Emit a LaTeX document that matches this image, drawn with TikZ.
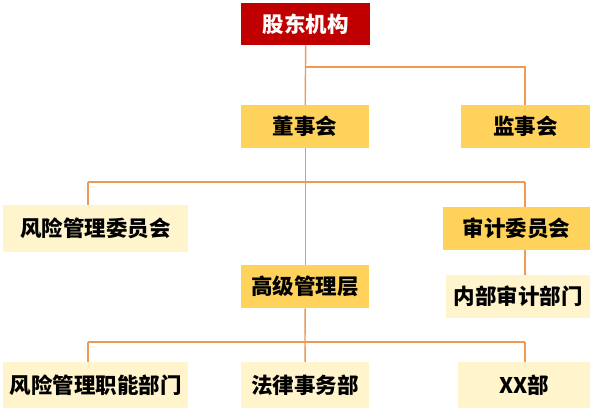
\documentclass[tikz,border=0pt]{standalone}
\usepackage{fontspec}
\setmainfont{Noto Sans CJK SC}
\begin{document}
\begin{tikzpicture}[x=1pt,y=-1pt,
 box/.style={draw=none,anchor=north west,inner sep=0pt,font=\fontsize{21.5}{22}\selectfont\bfseries},
 gold/.style={box,fill=gold},
 lite/.style={box,fill=lite},
 ln/.style={draw=lnc,line width=1.4pt}]
\definecolor{gold}{HTML}{FFD25C}
\definecolor{lite}{HTML}{FFF4CC}
\definecolor{lnc}{HTML}{EE9A55}
\definecolor{dred}{HTML}{C00000}
\useasboundingbox (0,0) rectangle (602,411);
\node[box,fill=dred,text=white,minimum width=129pt,minimum height=42pt] (sh) at (241,3) {股东机构};
\node[gold,minimum width=128pt,minimum height=43pt] (dsh) at (241,105) {董事会};
\node[gold,minimum width=129pt,minimum height=43pt] (jsh) at (461,105) {监事会};
\node[lite,minimum width=185pt,minimum height=47pt] (fxw) at (3,205) {风险管理委员会};
\node[gold,minimum width=147pt,minimum height=43pt] (sjw) at (443,207) {审计委员会};
\node[gold,minimum width=128pt,minimum height=43pt] (gj) at (241,265) {高级管理层};
\node[lite,minimum width=144pt,minimum height=43pt] (nb) at (446,275) {内部审计部门};
\node[lite,minimum width=185pt,minimum height=46pt] (fxz) at (3,362) {风险管理职能部门};
\node[lite,minimum width=128pt,minimum height=46pt] (fl) at (241,362) {法律事务部};
\node[lite,minimum width=132pt,minimum height=46pt] (xx) at (458,362) {XX部};
\coordinate (a) at (305,67);
\coordinate (b) at (525,67);
\coordinate (c1) at (88,182);
\coordinate (c2) at (305,182);
\coordinate (c3) at (525,182);
\coordinate (d1) at (88,342);
\coordinate (d2) at (305,342);
\coordinate (d3) at (525,342);
\draw[ln] (sh.south) -- (dsh.north);
\draw[ln] (a) -- (b) -- (b |- jsh.north);
\draw[ln] (dsh.south) -- (gj.north);
\draw[ln] (c1) -- (c3);
\draw[ln] (c1) -- (c1 |- fxw.north);
\draw[ln] (c3) -- (c3 |- sjw.north);
\draw[ln] (sjw.south -| c3) -- (nb.north -| c3);
\draw[ln] (gj.south) -- (d2);
\draw[ln] (d1) -- (d3);
\draw[ln] (d1) -- (d1 |- fxz.north);
\draw[ln] (d2) -- (fl.north);
\draw[ln] (d3) -- (d3 |- xx.north);
\end{tikzpicture}
\end{document}
